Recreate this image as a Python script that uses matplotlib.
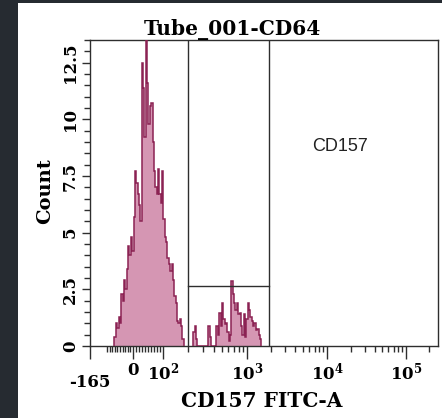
import numpy as np
import matplotlib.pyplot as plt
from matplotlib.patches import Rectangle

plt.rcParams['mathtext.fontset'] = 'dejavuserif'

# histogram counts per display bin (256 bins across the axis)
n_bins = 256
main_start = 18
main_counts = [0.4, 1.0, 0.8, 1.3, 1.0, 2.3, 2.0, 2.9, 2.5, 3.4,
               4.4, 4.0, 4.8, 4.2, 5.7, 7.7, 7.2, 6.7, 6.2, 5.5,
               12.5, 11.4, 9.2, 14.0, 11.6, 9.8, 10.6, 10.7, 9.0, 7.7,
               7.0, 6.7, 7.8, 6.7, 6.3, 7.7, 5.6, 4.8, 4.6, 3.9,
               3.6, 3.3, 3.6, 2.9, 2.2, 1.9, 1.1, 1.0, 1.2, 0.9, 0.3]
dim_start = 76
dim_counts = [0.6, 0.9, 0.3, 0, 0, 0, 0, 0, 0, 0,
              0, 0.9, 0.4, 0, 0, 0, 0, 0.9, 0.5, 1.45,
              0.9, 1.9, 1.2, 0.95, 1.0, 0.6, 0.2, 0.5, 2.85, 2.3,
              1.9, 1.6, 1.9, 1.4, 1.45, 0.9, 0.5, 1.4, 0.4, 1.2,
              1.9, 1.6, 1.3, 1.1, 0.9, 1.0, 0.7, 0.75, 0.5, 0.3]

gate_range = [200, 1880]
gate_height = 2.64
gate_name = 'CD157'

x_min, x_max = -165, 262144
major_ticks = [-165, 0, 100, 1000, 10000, 100000]
major_labels = ['-165', '0', r'$\mathbf{10^{2}}$', r'$\mathbf{10^{3}}$',
                r'$\mathbf{10^{4}}$', r'$\mathbf{10^{5}}$']
y_ticks = [0, 2.5, 5, 7.5, 10, 12.5]
y_labels = ['0', '2.5', '5', '7.5', '10', '12.5']

# biexponential-like display scale (display units 0..348)
log_anchor = [2, 3, 4, 5, np.log10(262144), 7]
unit_anchor = [73, 157, 237, 316, 348, 348 + (7 - np.log10(262144)) * 79]


def forward(x):
    x = np.asarray(x, dtype=float)
    lin = np.where(x < 0, 43 + x * 43 / 165, 43 + x * 0.30)
    lg = np.interp(np.log10(np.maximum(x, 100)), log_anchor, unit_anchor)
    return np.where(x < 100, lin, lg)


def inverse(u):
    u = np.asarray(u, dtype=float)
    lin = np.where(u < 43, (u - 43) * 165 / 43, (u - 43) / 0.30)
    lg = 10 ** np.interp(np.maximum(u, 73), unit_anchor, log_anchor)
    return np.where(u < 73, lin, lg)


bin_edges = inverse(np.linspace(0, 348, n_bins + 1))

fill_col = '#d596b3'
edge_col = '#8b2253'
line_col = '#2e2e2e'
serif = 'DejaVu Serif'

fig = plt.figure(figsize=(4.42, 4.18), dpi=100, facecolor='#262b31')
fig.patches.append(Rectangle((18 / 442, 0), 1, 415 / 418, transform=fig.transFigure,
                             facecolor='white', edgecolor='none', zorder=-5))
ax = fig.add_axes([90 / 442, 72 / 418, 348 / 442, 306 / 418])
ax.set_zorder(2)
ax.set_xscale('function', functions=(forward, inverse))

for start, counts in [(main_start, main_counts), (dim_start, dim_counts)]:
    edges = bin_edges[start:start + len(counts) + 1]
    ax.stairs(counts, edges, fill=True, color=fill_col, zorder=2)
    ax.stairs(counts, edges, color=edge_col, linewidth=1.1, zorder=3)

# range gate
for gx in gate_range:
    ax.axvline(gx, color=line_col, linewidth=1.0, zorder=4)
ax.plot(gate_range, [gate_height, gate_height], color=line_col, linewidth=1.0, zorder=4)
ax.text(14600, 8.8, gate_name, ha='center', va='center', fontsize=13,
        family='Liberation Sans', color='#222222')

ax.set_xlim(x_min, x_max)
ax.set_ylim(0, 13.5)

ax.set_xticks(major_ticks)
ax.set_xticklabels(major_labels)
minor_x = list(range(-100, 0, 10)) + list(range(10, 100, 10))
for dec in [100, 1000, 10000]:
    minor_x += [m * dec for m in range(2, 10)]
minor_x.append(200000)
ax.set_xticks(minor_x, minor=True)

ax.set_yticks(y_ticks)
ax.set_yticklabels(y_labels, rotation=90, va='center')
ax.set_yticks(np.arange(0, 13.6, 0.5), minor=True)

ax.tick_params(axis='x', which='major', length=9.5, width=1.0, pad=2, color=line_col)
ax.tick_params(axis='x', which='minor', length=4, width=1.0, color=line_col)
ax.tick_params(axis='y', which='major', length=6, width=1.0, pad=2, color=line_col)
ax.tick_params(axis='y', which='minor', length=4, width=1.0, color=line_col)
for lab in ax.get_xticklabels() + ax.get_yticklabels():
    lab.set_family(serif)
    lab.set_fontweight('bold')
    lab.set_fontsize(12)
ax.xaxis.get_major_ticks()[0].set_pad(11)

for sp in ax.spines.values():
    sp.set_color(line_col)
    sp.set_linewidth(1.0)

fig.text(232 / 442, 1 - 30 / 418, 'Tube_001-CD64', ha='center', va='center',
         family=serif, fontweight='bold', fontsize=14.5)
fig.text(262 / 442, 1 - 401 / 418, 'CD157 FITC-A', ha='center', va='center',
         family=serif, fontweight='bold', fontsize=14.5)
fig.text(45 / 442, 1 - 191 / 418, 'Count', ha='center', va='center', rotation=90,
         family=serif, fontweight='bold', fontsize=14)

fig.savefig('out.png', dpi=100, facecolor=fig.get_facecolor())
